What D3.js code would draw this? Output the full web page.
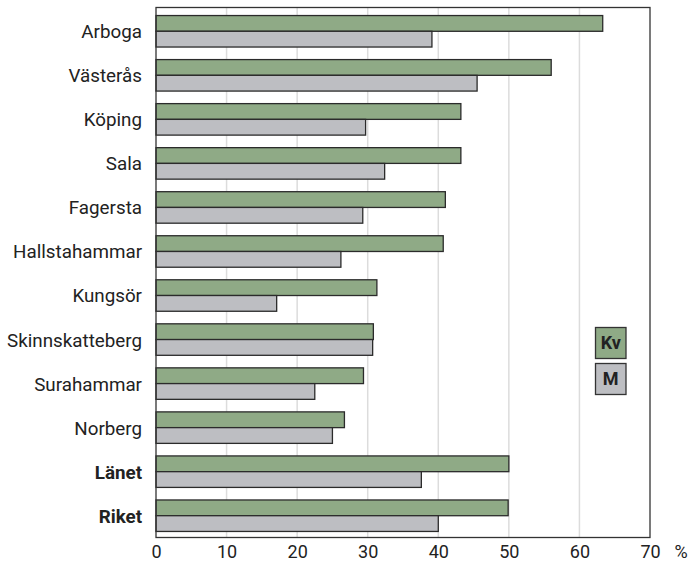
<!DOCTYPE html>
<html>
<head>
<meta charset="utf-8">
<script src="https://cdn.jsdelivr.net/npm/d3@7"></script>
<style>
  body { margin: 0; background: #fff; }
  svg { display: block; font-family: Roboto, "Noto Sans", sans-serif; }
</style>
</head>
<body>
<div id="viz"></div>
<script>
// data
const places = ["Arboga", "Västerås", "Köping", "Sala", "Fagersta", "Hallstahammar",
  "Kungsör", "Skinnskatteberg", "Surahammar", "Norberg", "Länet", "Riket"];
const kvValues = [63.3, 56.0, 43.2, 43.2, 41.0, 40.7, 31.3, 30.8, 29.4, 26.7, 50.0, 49.9];
const mValues = [39.1, 45.5, 29.7, 32.4, 29.3, 26.2, 17.1, 30.7, 22.5, 25.0, 37.6, 40.0];
const seriesNames = ["Kv", "M"];
const xTicks = [0, 10, 20, 30, 40, 50, 60, 70];
const boldPlaces = ["Länet", "Riket"];

const width = 689, height = 563;
const margin = { top: 7.5, right: 39, bottom: 25.5, left: 156 };
const GREEN = "#8faa86";
const GRAY = "#bdbec2";
const STROKE = "#2b2b2b";

const svg = d3.select("#viz").append("svg")
  .attr("width", width)
  .attr("height", height);

const x = d3.scaleLinear().domain([0, 70]).range([margin.left, width - margin.right]);
const y = d3.scaleBand().domain(places)
  .range([margin.top, height - margin.bottom])
  .paddingInner(0.285).paddingOuter(0.16);
const sub = d3.scaleBand().domain(seriesNames).range([0, y.bandwidth()]);

// gridlines
svg.append("g")
  .selectAll("line")
  .data(xTicks.slice(1, -1))
  .join("line")
  .attr("x1", d => x(d)).attr("x2", d => x(d))
  .attr("y1", margin.top).attr("y2", height - margin.bottom)
  .attr("stroke", "#dcdcdc").attr("stroke-width", 1.5);

// bars
const rows = places.map((p, i) => ({ place: p, Kv: kvValues[i], M: mValues[i] }));
const row = svg.append("g").selectAll("g")
  .data(rows)
  .join("g")
  .attr("transform", d => `translate(0,${y(d.place) + 1})`);

row.selectAll("rect")
  .data(d => seriesNames.map(k => ({ key: k, value: d[k] })))
  .join("rect")
  .attr("x", x(0))
  .attr("y", d => sub(d.key))
  .attr("width", d => x(d.value) - x(0))
  .attr("height", sub.bandwidth())
  .attr("fill", d => d.key === "Kv" ? GREEN : GRAY)
  .attr("stroke", STROKE)
  .attr("stroke-width", 1.3);

// frame
svg.append("rect")
  .attr("x", margin.left).attr("y", margin.top)
  .attr("width", x(70) - x(0))
  .attr("height", height - margin.top - margin.bottom)
  .attr("fill", "none")
  .attr("stroke", "#333").attr("stroke-width", 1.3);

// category labels
svg.append("g")
  .selectAll("text")
  .data(places)
  .join("text")
  .attr("x", 142)
  .attr("y", d => y(d) + y.bandwidth() / 2 + 1)
  .attr("dy", "0.37em")
  .attr("text-anchor", "end")
  .attr("font-size", 18.8)
  .attr("font-weight", d => boldPlaces.includes(d) ? "bold" : "normal")
  .attr("fill", "#222")
  .text(d => d);

// x axis labels
const xAxis = d3.axisBottom(x).tickValues(xTicks).tickSize(0).tickPadding(8);
const gx = svg.append("g")
  .attr("transform", `translate(0,${height - margin.bottom})`)
  .call(xAxis);
gx.select(".domain").remove();
gx.selectAll("text")
  .attr("font-family", "Roboto, sans-serif")
  .attr("font-size", 18)
  .attr("fill", "#222");

svg.append("text")
  .attr("x", 681).attr("y", 558)
  .attr("text-anchor", "middle")
  .attr("font-size", 18)
  .attr("fill", "#222")
  .text("%");

// legend
const legend = svg.append("g")
  .selectAll("g")
  .data(seriesNames)
  .join("g")
  .attr("transform", (d, i) => `translate(595.5,${327.5 + i * 36})`);
legend.append("rect")
  .attr("width", 30.5).attr("height", 31)
  .attr("fill", d => d === "Kv" ? GREEN : GRAY)
  .attr("stroke", "#333").attr("stroke-width", 1.3);
legend.append("text")
  .attr("x", 15.25).attr("y", 15.5)
  .attr("dy", "0.36em")
  .attr("text-anchor", "middle")
  .attr("font-size", 18)
  .attr("font-weight", "bold")
  .attr("fill", "#222")
  .text(d => d);
</script>
</body>
</html>
